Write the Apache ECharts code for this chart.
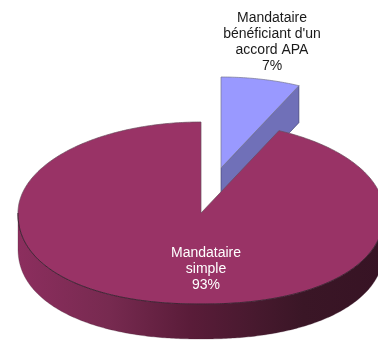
<!DOCTYPE html>
<html><head><meta charset="utf-8">
<style>html,body{margin:0;padding:0;background:#fff}#c{width:378px;height:340px}</style>
<script src="https://cdn.jsdelivr.net/npm/echarts@6/dist/echarts.min.js"></script>
</head><body><div id="c"></div>
<script>
const categories = ["Mandataire\nsimple", "Mandataire\nbénéficiant d'un\naccord APA"];
const values = [93, 7];
const labelColors = ["#ffffff", "#1a1a1a"];
const topColors = ["#993366", "#9999ff"];

const CX = 201, CY = 213, RX = 183, RY = 91, FRONT_POWER = 2.2, TAU = Math.PI * 2;
const depth = [35, 37];
const explode = [[0, 0], [20, -45]];
const labelPos = [[206, 269], [272, 42]];
const total = values.reduce((a, b) => a + b, 0);
const share = values.map(v => v / total);
const sliceStart = [share[1] * TAU, 0];
const sliceEnd = [TAU, share[1] * TAU];

// The reference is drawn in slight perspective: the near half of the rim bulges past a true ellipse.
function pt(i, t, dz) {
  const s = Math.sin(t), c = Math.cos(t);
  const dy = c >= 0 ? -RY * c : RY * Math.pow(Math.max(0, 1 - Math.pow(Math.abs(s), FRONT_POWER)), 1 / FRONT_POWER);
  return [CX + explode[i][0] + RX * s, CY + explode[i][1] + dy + (dz || 0)];
}
function arc(i, a, b, dz) {
  const n = Math.max(2, Math.ceil(Math.abs(b - a) * 80)), out = [];
  for (let k = 0; k <= n; k++) out.push(pt(i, a + (b - a) * k / n, dz));
  return out;
}
const wallGradient = {
  type: 'linear', x: 18, y: 0, x2: 384, y2: 0, global: true,
  colorStops: [
    { offset: 0, color: '#8c2e5e' }, { offset: 0.25, color: '#772a50' },
    { offset: 0.47, color: '#5a1c39' }, { offset: 0.65, color: '#47192e' },
    { offset: 0.78, color: '#3a1626' }, { offset: 1, color: '#371324' }
  ]
};
function renderItem(params, api) {
  const i = params.dataIndex, v = api.value(0);
  const a = sliceStart[i], b = sliceEnd[i], kids = [];
  const z = i === 0 ? 10 : 1, d = depth[i];
  const apex = [CX + explode[i][0], CY + explode[i][1]];
  if (i === 0) {
    const f0 = Math.PI / 2, f1 = Math.PI * 1.5;
    kids.push({ type: 'polygon', z2: z,
      shape: { points: arc(i, f0, f1, 0).concat(arc(i, f1, f0, d)) },
      style: { fill: wallGradient, stroke: '#4a2a3a', lineWidth: 0.3 } });
  } else {
    const e = pt(i, b, 0);
    kids.push({ type: 'polygon', z2: z,
      shape: { points: [apex, e, [e[0], e[1] + d], [apex[0], apex[1] + d]] },
      style: { fill: '#7070b8', stroke: '#3c3c66', lineWidth: 0.6 } });
  }
  kids.push({ type: 'polygon', z2: z + 1,
    shape: { points: [apex].concat(arc(i, a, b, 0)) },
    style: { fill: topColors[i], stroke: i === 0 ? '#6a4a5c' : '#77778f', lineWidth: 0.7 } });
  if (i === 0) {
    kids.push({ type: 'polyline', z2: z + 2,
      shape: { points: arc(i, Math.PI / 2, Math.PI * 1.5, 0) },
      style: { fill: null, stroke: '#2a1020', lineWidth: 0.7 } });
  }
  kids.push({ type: 'text', z2: 20,
    style: { x: labelPos[i][0], y: labelPos[i][1], text: categories[i] + '\n' + v + '%',
      textAlign: 'center', textVerticalAlign: 'middle', fill: labelColors[i], lineHeight: 16,
      font: '14px "Liberation Sans", Arial, sans-serif' } });
  return { type: 'group', children: kids };
}
const chart = echarts.init(document.getElementById('c'), null, { renderer: 'canvas' });
chart.setOption({
  animation: false,
  backgroundColor: '#ffffff',
  series: [{ type: 'custom', coordinateSystem: 'none', silent: true, renderItem, data: values.map(v => [v]) }]
});
</script></body></html>
